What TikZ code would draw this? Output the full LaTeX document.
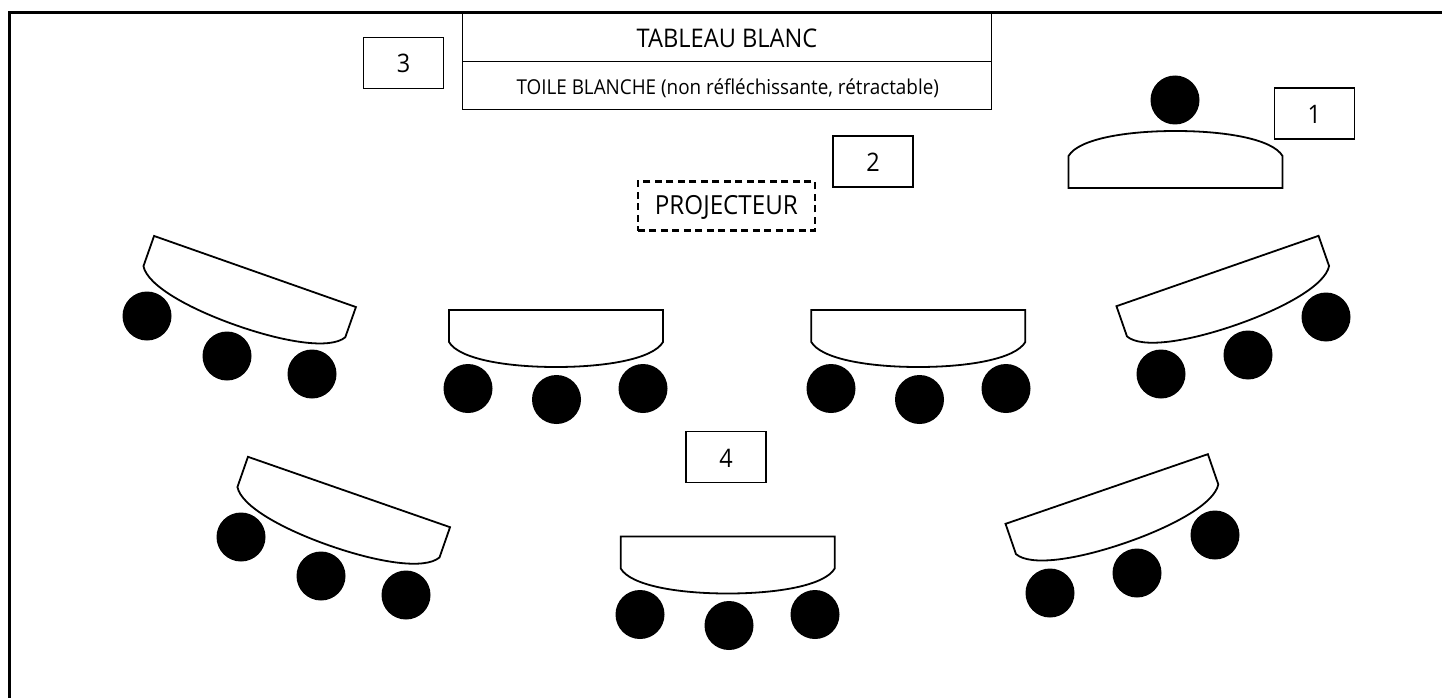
\documentclass[tikz,border=0pt]{standalone}
\usepackage{fontspec}
\setmainfont[FakeStretch=0.92]{Open Sans}
\tikzset{
  px/.style={x=1pt,y=-1pt},
  deskline/.style={draw=black,line width=1.8pt,line join=miter,fill=white},
  person/.style={circle,fill=black,draw=none,minimum size=49pt,inner sep=0pt},
  numbox/.style={draw=black,line width=1.1pt,minimum width=80pt,minimum height=51pt,inner sep=0pt,text height=20.5pt,text depth=0pt,font=\fontsize{25.5}{30}\selectfont},
  boardcell/.style={draw=black,line width=1.2pt,minimum width=529.5pt,inner sep=0pt,text depth=0pt},
  projbox/.style={draw=black,line width=2.6pt,dash pattern=on 7pt off 4.5pt,minimum width=177pt,minimum height=49.5pt,inner sep=0pt,text height=16pt,text depth=0pt,font=\fontsize{26.3}{30}\selectfont},
}
\newcommand{\deskpath}{(-107,0) -- (107,0) -- (107,32) .. controls (97,49) and (50,57) .. (0,57) .. controls (-50,57) and (-97,49) .. (-107,32) -- cycle}
\begin{document}
\begin{tikzpicture}[px]
\useasboundingbox (0,0) rectangle (1442,698);
\draw[line width=3.2pt] (9.5,698) -- (9.5,12.5) -- (1442,12.5);
% board
\node[boardcell,minimum height=48.7pt,text height=20pt,font=\fontsize{25.7}{30}\selectfont] (board) at (727,37.4) {TABLEAU BLANC};
\node[boardcell,minimum height=47.6pt,text height=17.6pt,font=\fontsize{20.5}{24}\selectfont] (screen) at (727,85.5) {\hspace*{1.5pt}TOILE BLANCHE (non réfléchissante, rétractable)};
% numbered boxes
\node[numbox] (n1) at (1314.2,113.5) {1};
\node[numbox] (n2) at (873,161.5) {2};
\node[numbox] (n3) at (403.7,62.75) {3};
\node[numbox] (n4) at (726,457) {4};
\node[projbox] (proj) at (726.4,206) {PROJECTEUR};
% desks
\draw[deskline,shift={(1175.5,188)},yscale=-1] \deskpath;
\draw[deskline,shift={(255,271.5)},rotate=-19.4] \deskpath;
\draw[deskline,shift={(556,310)}] \deskpath;
\draw[deskline,shift={(918.3,310)}] \deskpath;
\draw[deskline,shift={(1217.5,271)},rotate=19.2] \deskpath;
\draw[deskline,shift={(349,492)},rotate=-19.2] \deskpath;
\draw[deskline,shift={(727.7,536.5)}] \deskpath;
\draw[deskline,shift={(1106.7,489)},rotate=19] \deskpath;
% people
\node[person] (t) at (1175,100) {};
\node[person] (a1) at (147,316) {};
\node[person] (a2) at (227,356) {};
\node[person] (a3) at (312,374) {};
\node[person] (b1) at (468,388.5) {};
\node[person] (b2) at (556.5,399.5) {};
\node[person] (b3) at (643,388.5) {};
\node[person] (c1) at (831,388.5) {};
\node[person] (c2) at (919.5,399.5) {};
\node[person] (c3) at (1006,388.5) {};
\node[person] (d1) at (1161,374) {};
\node[person] (d2) at (1248,355) {};
\node[person] (d3) at (1326,317) {};
\node[person] (e1) at (241,537) {};
\node[person] (e2) at (321,576) {};
\node[person] (e3) at (406,595) {};
\node[person] (f1) at (640,614.5) {};
\node[person] (f2) at (729,625.5) {};
\node[person] (f3) at (815,614.5) {};
\node[person] (g1) at (1050,593) {};
\node[person] (g2) at (1137,573) {};
\node[person] (g3) at (1215,535) {};
\end{tikzpicture}
\end{document}
